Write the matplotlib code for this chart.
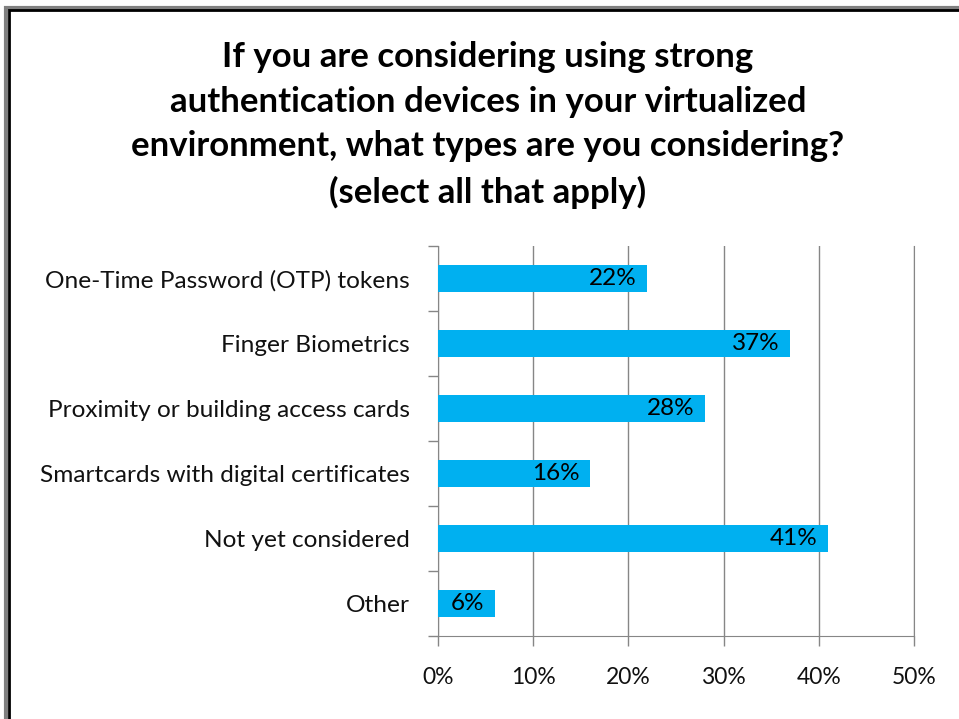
import matplotlib
matplotlib.use('Agg')
import matplotlib.pyplot as plt
from matplotlib.patches import Rectangle
from matplotlib.ticker import FuncFormatter, MultipleLocator

# survey answers, top to bottom
categories = ['One-Time Password (OTP) tokens',
              'Finger Biometrics',
              'Proximity or building access cards',
              'Smartcards with digital certificates',
              'Not yet considered',
              'Other']
values = [22, 37, 28, 16, 41, 6]

title = ('If you are considering using strong\n'
         'authentication devices in your virtualized\n'
         'environment, what types are you considering?\n'
         '(select all that apply)')

plt.rcParams['font.family'] = ['Lato', 'DejaVu Sans']

fig = plt.figure(figsize=(9.59, 7.19), dpi=100)
ax = fig.add_axes([438 / 959, 1 - 636 / 719, (914 - 438) / 959, (636 - 246) / 719])

pos = list(range(len(categories)))
ax.barh(pos, values, height=0.41, color='#00B0F0', zorder=3)

for p, v in zip(pos, values):
    ax.annotate(f'{v}%', xy=(v, p), xytext=(-7.5, 0), textcoords='offset points',
                ha='right', va='center', fontsize=17.5, color='black', zorder=4)

ax.set_xlim(0, 50)
ax.set_ylim(len(categories) - 0.5, -0.5)
ax.xaxis.set_major_locator(MultipleLocator(10))
ax.xaxis.set_major_formatter(FuncFormatter(lambda x, _: f'{x:.0f}%'))
ax.set_yticks(pos)
ax.set_yticklabels(categories)
# category ticks sit between bars
ax.set_yticks([p + 0.5 for p in range(-1, len(categories))], minor=True)
ax.tick_params(axis='y', which='major', length=0, pad=20, labelsize=17.6, labelcolor='#111111')
ax.tick_params(axis='y', which='minor', length=7, color='#868686', width=1)
ax.tick_params(axis='x', length=7, color='#868686', width=1, pad=15, labelsize=16.5,
               labelcolor='#111111')

ax.grid(axis='x', color='#868686', linewidth=1, zorder=0)
ax.spines['top'].set_visible(False)
for side in ['left', 'bottom', 'right']:
    ax.spines[side].set_color('#868686')

fig.text(488 / 959, 1 - 41 / 719, title, ha='center', va='top', fontsize=25,
         fontweight='bold', linespacing=1.49, color='black')

# the frame around the picture (runs off the right and bottom edge)
fig.patches.append(Rectangle((5.5 / 959, -0.5), 2, 0.5 + 1 - 8 / 719, transform=fig.transFigure,
                             fill=False, edgecolor='#808080', linewidth=3))
fig.patches.append(Rectangle((8.8 / 959, -0.5), 2, 0.5 + 1 - 10 / 719, transform=fig.transFigure,
                             fill=False, edgecolor='black', linewidth=2))

fig.savefig('out.png', dpi=100)
